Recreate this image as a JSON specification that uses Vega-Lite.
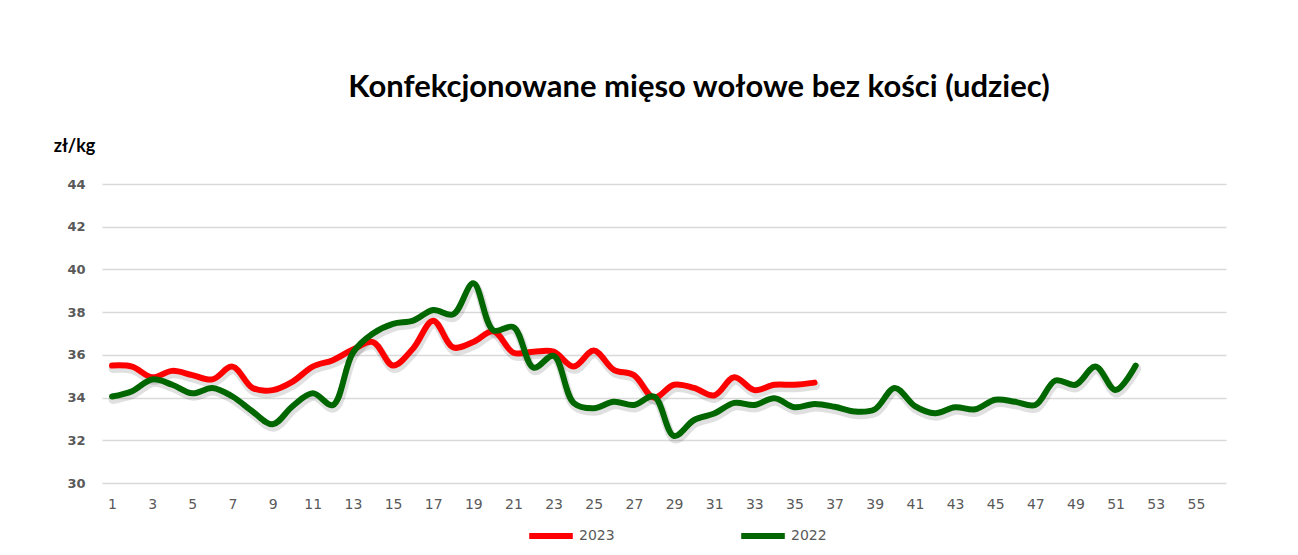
{
  "$schema": "https://vega.github.io/schema/vega-lite/v6.json",
  "width": 1124,
  "height": 299,
  "autosize": {"type": "none"},
  "padding": {"left": 102, "top": 184, "right": 72, "bottom": 72},
  "background": "white",
  "config": {"view": {"stroke": null}},
  "title": {
    "text": "Konfekcjonowane mięso wołowe bez kości (udziec)",
    "font": "Lato",
    "fontSize": 31,
    "fontWeight": "bold",
    "color": "#000000",
    "anchor": "middle",
    "dx": 35,
    "offset": 33
  },
  "data": {
    "values": [
      {"week": 1, "year": "2023", "price": 35.5},
      {"week": 2, "year": "2023", "price": 35.45},
      {"week": 3, "year": "2023", "price": 34.95},
      {"week": 4, "year": "2023", "price": 35.25},
      {"week": 5, "year": "2023", "price": 35.05},
      {"week": 6, "year": "2023", "price": 34.85},
      {"week": 7, "year": "2023", "price": 35.45},
      {"week": 8, "year": "2023", "price": 34.45},
      {"week": 9, "year": "2023", "price": 34.35},
      {"week": 10, "year": "2023", "price": 34.75},
      {"week": 11, "year": "2023", "price": 35.45},
      {"week": 12, "year": "2023", "price": 35.75},
      {"week": 13, "year": "2023", "price": 36.25},
      {"week": 14, "year": "2023", "price": 36.6},
      {"week": 15, "year": "2023", "price": 35.5},
      {"week": 16, "year": "2023", "price": 36.3},
      {"week": 17, "year": "2023", "price": 37.6},
      {"week": 18, "year": "2023", "price": 36.35},
      {"week": 19, "year": "2023", "price": 36.6},
      {"week": 20, "year": "2023", "price": 37.1},
      {"week": 21, "year": "2023", "price": 36.1},
      {"week": 22, "year": "2023", "price": 36.15},
      {"week": 23, "year": "2023", "price": 36.15},
      {"week": 24, "year": "2023", "price": 35.45},
      {"week": 25, "year": "2023", "price": 36.2},
      {"week": 26, "year": "2023", "price": 35.3},
      {"week": 27, "year": "2023", "price": 35.05},
      {"week": 28, "year": "2023", "price": 34.0},
      {"week": 29, "year": "2023", "price": 34.6},
      {"week": 30, "year": "2023", "price": 34.45},
      {"week": 31, "year": "2023", "price": 34.1},
      {"week": 32, "year": "2023", "price": 34.95},
      {"week": 33, "year": "2023", "price": 34.35},
      {"week": 34, "year": "2023", "price": 34.6},
      {"week": 35, "year": "2023", "price": 34.6},
      {"week": 36, "year": "2023", "price": 34.7},
      {"week": 1, "year": "2022", "price": 34.05},
      {"week": 2, "year": "2022", "price": 34.3},
      {"week": 3, "year": "2022", "price": 34.85},
      {"week": 4, "year": "2022", "price": 34.6},
      {"week": 5, "year": "2022", "price": 34.2},
      {"week": 6, "year": "2022", "price": 34.45},
      {"week": 7, "year": "2022", "price": 34.05},
      {"week": 8, "year": "2022", "price": 33.35},
      {"week": 9, "year": "2022", "price": 32.75},
      {"week": 10, "year": "2022", "price": 33.6},
      {"week": 11, "year": "2022", "price": 34.2},
      {"week": 12, "year": "2022", "price": 33.65},
      {"week": 13, "year": "2022", "price": 36.1},
      {"week": 14, "year": "2022", "price": 37.0},
      {"week": 15, "year": "2022", "price": 37.45},
      {"week": 16, "year": "2022", "price": 37.6},
      {"week": 17, "year": "2022", "price": 38.1},
      {"week": 18, "year": "2022", "price": 37.9},
      {"week": 19, "year": "2022", "price": 39.35},
      {"week": 20, "year": "2022", "price": 37.15},
      {"week": 21, "year": "2022", "price": 37.3},
      {"week": 22, "year": "2022", "price": 35.4},
      {"week": 23, "year": "2022", "price": 35.95},
      {"week": 24, "year": "2022", "price": 33.75},
      {"week": 25, "year": "2022", "price": 33.5},
      {"week": 26, "year": "2022", "price": 33.8},
      {"week": 27, "year": "2022", "price": 33.65},
      {"week": 28, "year": "2022", "price": 34.05},
      {"week": 29, "year": "2022", "price": 32.2},
      {"week": 30, "year": "2022", "price": 32.95},
      {"week": 31, "year": "2022", "price": 33.25},
      {"week": 32, "year": "2022", "price": 33.75},
      {"week": 33, "year": "2022", "price": 33.65},
      {"week": 34, "year": "2022", "price": 33.97},
      {"week": 35, "year": "2022", "price": 33.55},
      {"week": 36, "year": "2022", "price": 33.7},
      {"week": 37, "year": "2022", "price": 33.57},
      {"week": 38, "year": "2022", "price": 33.35},
      {"week": 39, "year": "2022", "price": 33.45},
      {"week": 40, "year": "2022", "price": 34.45},
      {"week": 41, "year": "2022", "price": 33.6},
      {"week": 42, "year": "2022", "price": 33.27},
      {"week": 43, "year": "2022", "price": 33.55},
      {"week": 44, "year": "2022", "price": 33.45},
      {"week": 45, "year": "2022", "price": 33.9},
      {"week": 46, "year": "2022", "price": 33.8},
      {"week": 47, "year": "2022", "price": 33.65},
      {"week": 48, "year": "2022", "price": 34.8},
      {"week": 49, "year": "2022", "price": 34.6},
      {"week": 50, "year": "2022", "price": 35.45},
      {"week": 51, "year": "2022", "price": 34.35},
      {"week": 52, "year": "2022", "price": 35.5}
    ]
  },
  "encoding": {
    "x": {
      "field": "week",
      "type": "quantitative",
      "scale": {"domain": [0.5, 56.5], "nice": false, "zero": false},
      "axis": {
        "values": [1,3,5,7,9,11,13,15,17,19,21,23,25,27,29,31,33,35,37,39,41,43,45,47,49,51,53,55],
        "title": null,
        "grid": false,
        "domain": false,
        "ticks": false,
        "labelFont": "DejaVu Sans",
        "labelFontSize": 14,
        "labelColor": "#595959",
        "labelPadding": 14,
        "labelFlush": false
      }
    },
    "y": {
      "field": "price",
      "type": "quantitative",
      "scale": {"domain": [30, 44], "nice": false, "zero": false},
      "axis": {
        "values": [30, 32, 34, 36, 38, 40, 42, 44],
        "title": "zł/kg",
        "titleAngle": 0,
        "titleX": -28,
        "titleY": -38,
        "titleAlign": "center",
        "titleBaseline": "middle",
        "titleFont": "Lato",
        "titleFontSize": 18,
        "titleFontWeight": "bold",
        "titleColor": "#000000",
        "grid": true,
        "gridColor": "#D9D9D9",
        "gridWidth": 1.5,
        "domain": false,
        "ticks": false,
        "labelFont": "DejaVu Sans",
        "labelFontSize": 13,
        "labelFontWeight": "bold",
        "labelColor": "#595959",
        "labelPadding": 17
      }
    }
  },
  "layer": [
    {
      "mark": {"type": "line", "interpolate": "catmull-rom", "strokeWidth": 9, "color": "#000000", "opacity": 0.12, "xOffset": 1, "yOffset": 3, "strokeCap": "round", "strokeJoin": "round"},
      "encoding": {"detail": {"field": "year", "type": "nominal"}}
    },
    {
      "mark": {"type": "line", "interpolate": "catmull-rom", "strokeWidth": 6, "strokeCap": "round", "strokeJoin": "round"},
      "encoding": {
        "color": {
          "field": "year",
          "type": "nominal",
          "sort": ["2023", "2022"],
          "scale": {"domain": ["2023", "2022"], "range": ["#FF0000", "#006600"]},
          "legend": {
            "title": null,
            "orient": "none",
            "direction": "horizontal",
            "legendX": 424,
            "legendY": 327,
            "symbolType": "stroke",
            "symbolSize": 1900,
            "symbolStrokeWidth": 6,
            "labelFont": "DejaVu Sans",
            "labelFontSize": 14,
            "labelColor": "#595959",
            "labelOffset": 3,
            "columnPadding": 114
          }
        }
      }
    }
  ]
}
